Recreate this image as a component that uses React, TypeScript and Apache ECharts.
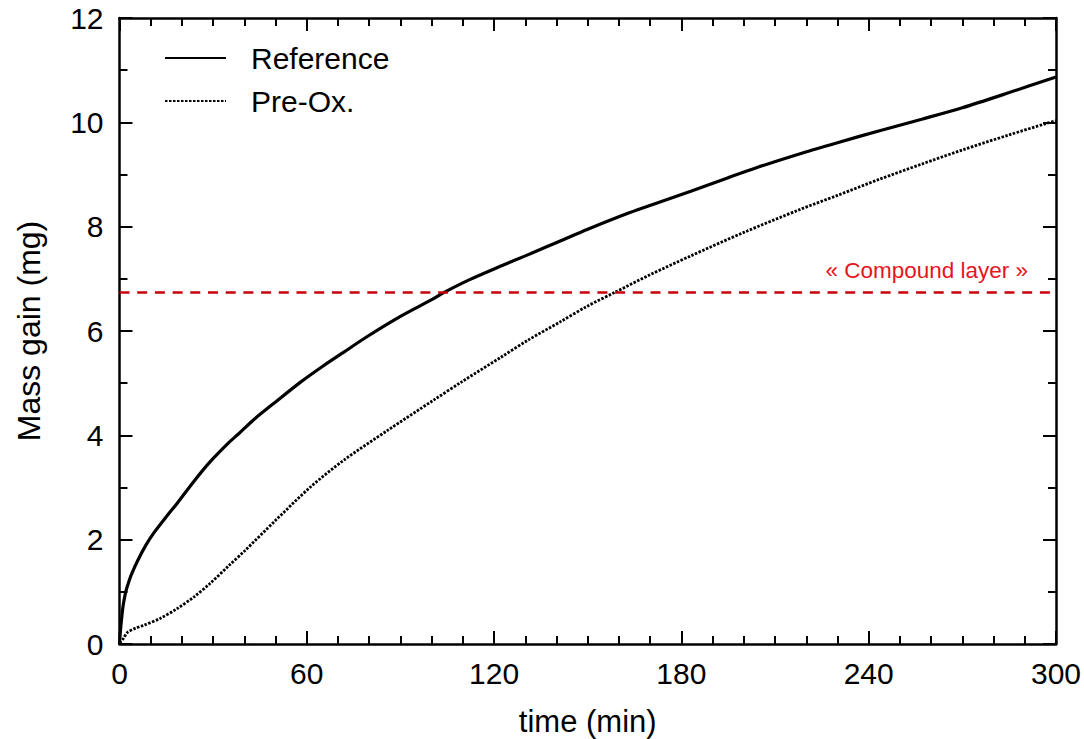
import React, { useEffect, useRef } from "react";
import * as echarts from "echarts";

const timeRef = [0, 0.3, 0.7, 1.2, 2, 3, 4, 6, 8.5, 11, 15, 18.5, 24, 29, 35, 38, 43, 50, 58, 65, 72, 79, 90, 100, 104, 112, 122, 130, 141, 150, 163.5, 172, 183, 195, 204, 217, 230, 243.5, 257, 270, 285, 300];
const massRef = [0, 0.25, 0.5, 0.75, 1.0, 1.2, 1.36, 1.62, 1.9, 2.13, 2.44, 2.7, 3.13, 3.49, 3.86, 4.02, 4.3, 4.64, 5.02, 5.32, 5.6, 5.88, 6.28, 6.6, 6.74, 6.98, 7.24, 7.44, 7.72, 7.95, 8.27, 8.45, 8.68, 8.94, 9.13, 9.38, 9.61, 9.84, 10.06, 10.28, 10.57, 10.87];

const timePre = [0, 1.2, 2.5, 5, 7.8, 13, 18.5, 24, 29, 35, 40, 50, 61, 72, 86, 100.5, 110, 122, 131, 141, 150, 159, 170, 183, 200, 218, 230, 243.5, 257, 270, 285, 297, 300];
const massPre = [0.02, 0.1, 0.22, 0.3, 0.36, 0.49, 0.68, 0.91, 1.16, 1.5, 1.78, 2.37, 3.0, 3.53, 4.1, 4.67, 5.04, 5.49, 5.83, 6.17, 6.48, 6.75, 7.08, 7.44, 7.89, 8.33, 8.6, 8.91, 9.2, 9.47, 9.76, 9.98, 10.03];

const compoundLayer = 6.75;
const compoundLabel = "« Compound layer »";
const seriesNames = ["Reference", "Pre-Ox."];
const xName = "time (min)";
const yName = "Mass gain (mg)";

const FONT = "Liberation Sans, Arial, Helvetica, sans-serif";

export default function App() {
  const ref = useRef<HTMLDivElement>(null);
  useEffect(() => {
    document.body.style.margin = "0";
    const chart = echarts.init(ref.current!, null, { renderer: "svg" });
    const axisLine = { show: true, onZero: false, lineStyle: { color: "#000", width: 2.5 } };
    const tick = (len: number) => ({ show: true, inside: true, length: len, lineStyle: { color: "#000", width: 2 } });
    const minor = (n: number) => ({ show: true, splitNumber: n, length: 8, lineStyle: { color: "#000", width: 2 } });
    const xBase = {
      type: "value",
      min: 0,
      max: 300,
      interval: 60,
      axisLine,
      axisTick: tick(13),
      minorTick: minor(6),
      splitLine: { show: false },
    };
    const yBase = {
      type: "value",
      min: 0,
      max: 12,
      interval: 2,
      axisLine,
      axisTick: tick(13),
      minorTick: minor(2),
      splitLine: { show: false },
    };
    chart.setOption({
      animation: false,
      backgroundColor: "#fff",
      textStyle: { fontFamily: FONT },
      grid: { left: 119.5, right: 28, top: 18, bottom: 95, containLabel: false, outerBoundsMode: "none" },
      legend: {
        data: seriesNames,
        orient: "vertical",
        left: 159,
        top: 38,
        itemWidth: 61,
        itemHeight: 14,
        itemGap: 13,
        itemStyle: { opacity: 0 },
        textStyle: { fontSize: 30, color: "#000", fontFamily: FONT, padding: [0, 0, 0, 20] },
      },
      xAxis: [
        {
          ...xBase,
          position: "bottom",
          name: xName,
          nameLocation: "middle",
          nameGap: 62,
          nameTextStyle: { fontSize: 31, color: "#000", fontFamily: FONT },
          axisLabel: { show: true, fontSize: 30, color: "#000", margin: 14, fontFamily: FONT },
        },
        { ...xBase, position: "top", axisLabel: { show: false } },
      ],
      yAxis: [
        {
          ...yBase,
          position: "left",
          name: yName,
          nameLocation: "middle",
          nameGap: 75,
          nameTextStyle: { fontSize: 32, color: "#000", fontFamily: FONT },
          axisLabel: { show: true, fontSize: 30, color: "#000", margin: 16, fontFamily: FONT },
        },
        { ...yBase, position: "right", axisLabel: { show: false } },
      ],
      series: [
        {
          name: seriesNames[0],
          type: "line",
          data: timeRef.map((t, i) => [t, massRef[i]]),
          showSymbol: false,
          symbol: "none",
          smooth: 0.3,
          lineStyle: { color: "#000", width: 3.2 },
          itemStyle: { color: "#000" },
          z: 3,
        },
        {
          name: seriesNames[1],
          type: "line",
          data: timePre.map((t, i) => [t, massPre[i]]),
          showSymbol: false,
          symbol: "none",
          smooth: 0.3,
          lineStyle: { color: "#000", width: 2.8, type: [2.5, 1.5] },
          itemStyle: { color: "#000" },
          z: 3,
        },
        {
          name: "compound",
          type: "line",
          data: [],
          markLine: {
            silent: true,
            symbol: ["none", "none"],
            data: [{ yAxis: compoundLayer }],
            lineStyle: { color: "#c8000a", width: 2.5, type: [10, 7.7] },
            label: {
              show: true,
              position: "insideEndTop",
              formatter: compoundLabel,
              color: "#e8141c",
              fontSize: 22.5,
              fontFamily: FONT,
              distance: [28, 10],
            },
          },
        },
      ],
    });
    return () => chart.dispose();
  }, []);
  return <div ref={ref} style={{ position: "fixed", left: 0, top: 0, width: 1084, height: 739 }} />;
}
